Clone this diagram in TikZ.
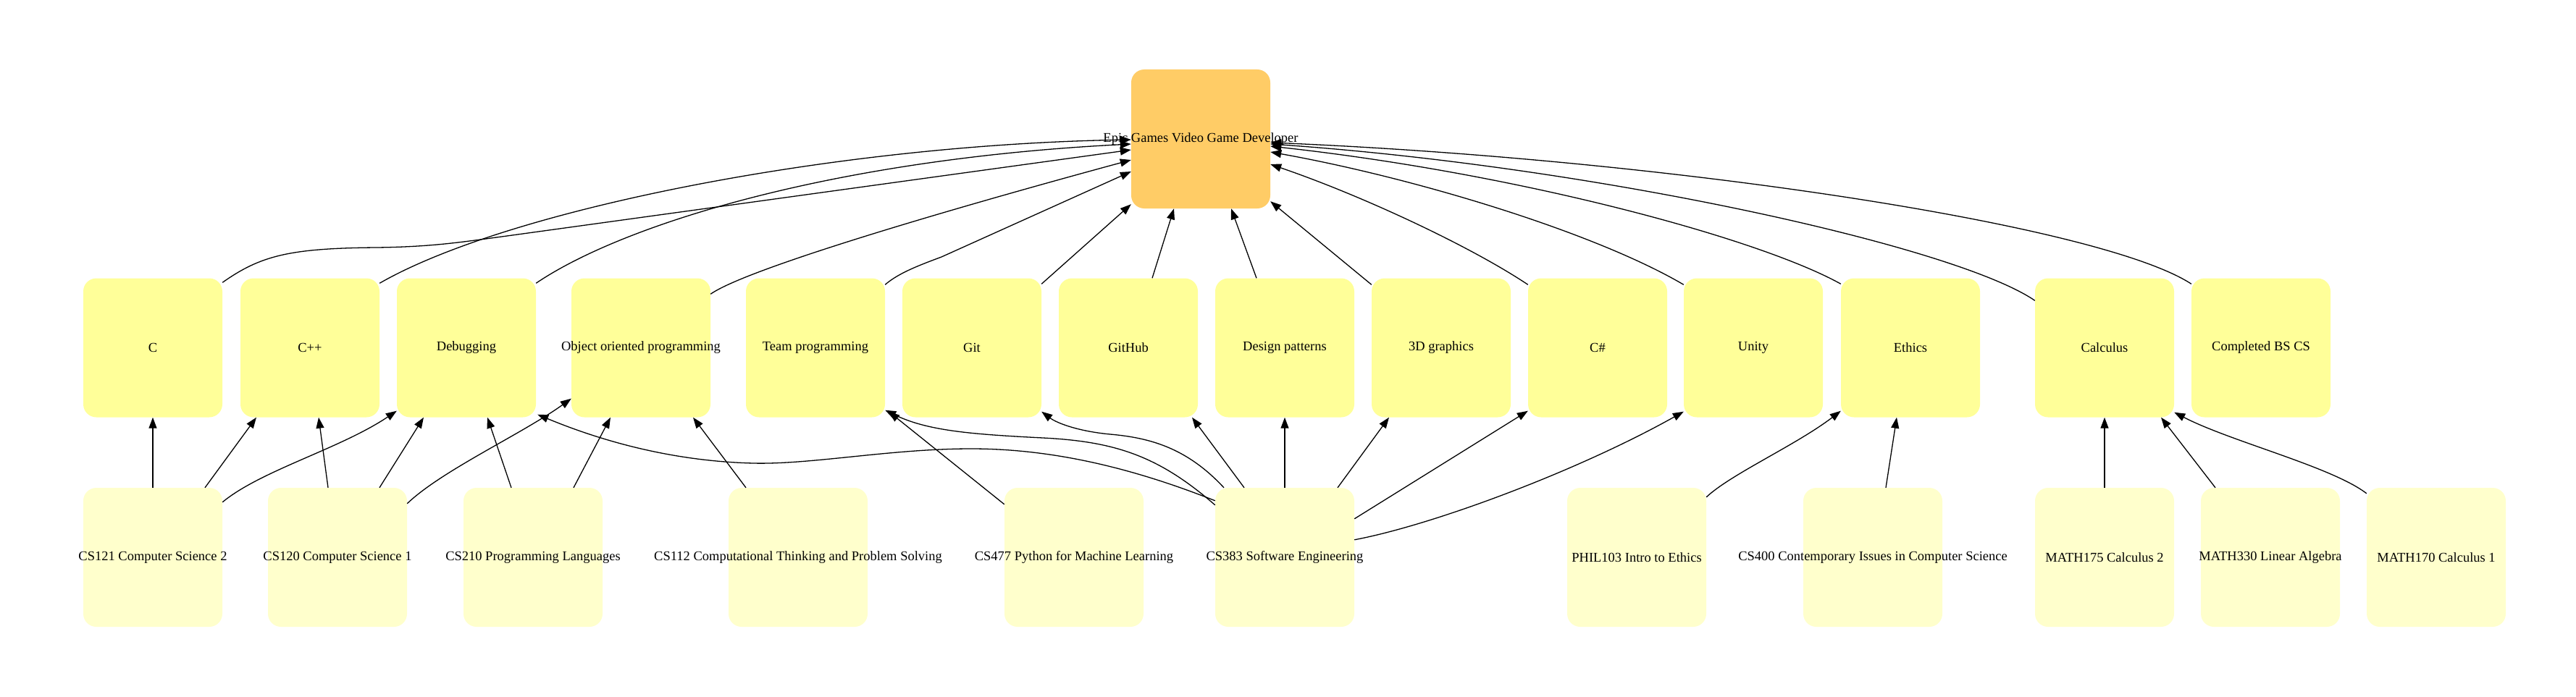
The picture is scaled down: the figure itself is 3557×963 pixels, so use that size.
\documentclass[tikz,border=0pt]{standalone}
\usepackage{fontspec}
\setmainfont{Liberation Serif}
\usetikzlibrary{arrows.meta}
\definecolor{topfill}{HTML}{FFCC66}
\definecolor{midfill}{HTML}{FFFF99}
\definecolor{lowfill}{HTML}{FFFFCC}
\newcommand\lblfont{\fontsize{18.5}{22}\selectfont}
\newcommand\lbl[1]{\makebox[0pt][c]{#1}}
\tikzset{
  box/.style={rectangle, rounded corners=18pt, minimum width=192pt, minimum height=192pt, inner sep=0pt, draw=none, font=\lblfont, text=black},
  topbox/.style={box, fill=topfill},
  midbox/.style={box, fill=midfill},
  lowbox/.style={box, fill=lowfill},
  edge/.style={line width=1.3pt, draw=black, -{Triangle[length=15pt,width=11pt]}}
}
\begin{document}
\begin{tikzpicture}[x=1pt,y=-1pt]
\useasboundingbox (0,0) rectangle (3557,963);
% top
\node[topbox] (epic) at (1658,192) {\lbl{Epic Games Video Game Developer}};
% middle row
\node[midbox] (c) at (211,480.5) {\lbl{C}};
\node[midbox] (cpp) at (428,480.5) {\lbl{C++}};
\node[midbox] (debug) at (644,480.5) {\lbl{Debugging}};
\node[midbox] (oop) at (885,480.5) {\lbl{Object oriented programming}};
\node[midbox] (team) at (1126,480.5) {\lbl{Team programming}};
\node[midbox] (git) at (1342,480.5) {\lbl{Git}};
\node[midbox] (github) at (1558,480.5) {\lbl{GitHub}};
\node[midbox] (design) at (1774,480.5) {\lbl{Design patterns}};
\node[midbox] (threeD) at (1990,480.5) {\lbl{3D graphics}};
\node[midbox] (csharp) at (2206,480.5) {\lbl{C\#}};
\node[midbox] (unity) at (2421,480.5) {\lbl{Unity}};
\node[midbox] (ethics) at (2638,480.5) {\lbl{Ethics}};
\node[midbox] (calculus) at (2906,480.5) {\lbl{Calculus}};
\node[midbox] (bscs) at (3122,480.5) {\lbl{Completed BS CS}};
% bottom row
\node[lowbox] (cs121) at (211,770) {\lbl{CS121 Computer Science 2}};
\node[lowbox] (cs120) at (466,770) {\lbl{CS120 Computer Science 1}};
\node[lowbox] (cs210) at (736,770) {\lbl{CS210 Programming Languages}};
\node[lowbox] (cs112) at (1102,770) {\lbl{CS112 Computational Thinking and Problem Solving}};
\node[lowbox] (cs477) at (1483,770) {\lbl{CS477 Python for Machine Learning}};
\node[lowbox] (cs383) at (1774,770) {\lbl{CS383 Software Engineering}};
\node[lowbox] (phil103) at (2260,770) {\lbl{PHIL103 Intro to Ethics}};
\node[lowbox] (cs400) at (2586,770) {\lbl{CS400 Contemporary Issues in Computer Science}};
\node[lowbox] (math175) at (2906,770) {\lbl{MATH175 Calculus 2}};
\node[lowbox] (math330) at (3135,770) {\lbl{MATH330 Linear Algebra}};
\node[lowbox] (math170) at (3364,770) {\lbl{MATH170 Calculus 1}};

% edges into Epic
\draw[edge] ([yshift=-6pt]c.north east) .. controls (360,353) and (400,343) .. (520,342) .. controls (600,341) and (640,334) .. (700,326) -- ([yshift=-15pt]epic.west);
\draw[edge] ([yshift=-7pt]cpp.north east) .. controls (700,290) and (1150,200) .. ([yshift=-1pt]epic.west);
\draw[edge] ([yshift=-7pt]debug.north east) .. controls (860,310) and (1150,220) .. ([yshift=-7pt]epic.west);
\draw[edge] ([yshift=-22pt]oop.north east) .. controls (1030,372) and (1300,292) .. ([yshift=-29pt]epic.west);
\draw[edge] ([yshift=-9pt]team.north east) .. controls (1240,378) and (1265,368) .. (1300,355) -- ([yshift=-45pt]epic.west);
\draw[edge] ([yshift=-8pt]git.north east) -- ([yshift=6pt]epic.south west);
\draw[edge] ([xshift=33pt]github.north) -- ([xshift=-37pt]epic.south);
\draw[edge] ([xshift=-39pt]design.north) -- ([xshift=42pt]epic.south);
\draw[edge] ([yshift=-9pt]threeD.north west) -- ([yshift=10pt]epic.south east);
\draw[edge] ([yshift=-9pt]csharp.north west) .. controls (2030,340) and (1880,270) .. ([yshift=-35pt]epic.east);
\draw[edge] ([yshift=-9pt]unity.north west) .. controls (2200,320) and (1950,245) .. ([yshift=-18pt]epic.east);
\draw[edge] ([yshift=-8pt]ethics.north west) .. controls (2430,330) and (2100,240) .. ([yshift=-10pt]epic.east);
\draw[edge] ([yshift=-31pt]calculus.north west) .. controls (2700,340) and (2200,230) .. ([yshift=-7pt]epic.east);
\draw[edge] ([yshift=-8pt]bscs.north west) .. controls (2900,310) and (2300,220) .. ([yshift=-5pt]epic.east);

% edges from bottom row
\draw[edge] (cs121.north) -- (c.south);
\draw[edge] ([xshift=72pt]cs121.north) -- ([xshift=-74pt]cpp.south);
\draw[edge] ([yshift=-20pt]cs121.north east) .. controls (360,650) and (470,620) .. ([yshift=9pt]debug.south west);
\draw[edge] ([xshift=-13pt]cs120.north) -- ([xshift=12pt]cpp.south);
\draw[edge] ([xshift=58pt]cs120.north) -- ([xshift=-59pt]debug.south);
\draw[edge] ([yshift=-22pt]cs120.north east) .. controls (610,650) and (720,600) .. ([yshift=26pt]oop.south west);
\draw[edge] ([xshift=-30pt]cs210.north) -- ([xshift=29pt]debug.south);
\draw[edge] ([xshift=56pt]cs210.north) -- ([xshift=-42pt]oop.south);
\draw[edge] ([xshift=-72pt]cs112.north) -- ([xshift=72pt]oop.south);
\draw[edge] ([yshift=-18pt]cs383.north west) .. controls (1560,645) and (1450,620) .. (1341,620) .. controls (1230,620) and (1120,642) .. (1040,640) .. controls (920,637) and (820,605) .. ([xshift=2pt,yshift=4pt]debug.south east);
\draw[edge] ([yshift=-24pt]cs383.north west) .. controls (1600,630) and (1540,610) .. (1440,605) .. controls (1340,600) and (1280,595) .. ([yshift=10pt]team.south east);
\draw[edge] ([yshift=-23pt]cs477.north west) -- ([xshift=5pt,yshift=8pt]team.south east);
\draw[edge] ([xshift=-84pt]cs383.north) .. controls (1640,620) and (1590,605) .. (1533,600) .. controls (1490,596) and (1460,585) .. ([yshift=8pt]git.south east);
\draw[edge] ([xshift=-56pt]cs383.north) -- ([xshift=88pt]github.south);
\draw[edge] (cs383.north) -- (design.south);
\draw[edge] ([xshift=73pt]cs383.north) -- ([xshift=-72pt]threeD.south);
\draw[edge] ([yshift=-43pt]cs383.north east) -- ([yshift=9pt]csharp.south west);
\draw[edge] ([yshift=-72pt]cs383.north east) .. controls (1980,725) and (2180,650) .. ([yshift=8pt]unity.south west);
\draw[edge] ([yshift=-13pt]phil103.north east) .. controls (2390,655) and (2480,615) .. ([yshift=9pt]ethics.south west);
\draw[edge] ([xshift=18pt]cs400.north) -- ([xshift=-19pt]ethics.south);
\draw[edge] (math175.north) -- (calculus.south);
\draw[edge] ([xshift=-76pt]math330.north) -- ([xshift=78pt]calculus.south);
\draw[edge] ([yshift=-8pt]math170.north west) .. controls (3220,645) and (3080,610) .. ([yshift=7pt]calculus.south east);
\end{tikzpicture}
\end{document}
